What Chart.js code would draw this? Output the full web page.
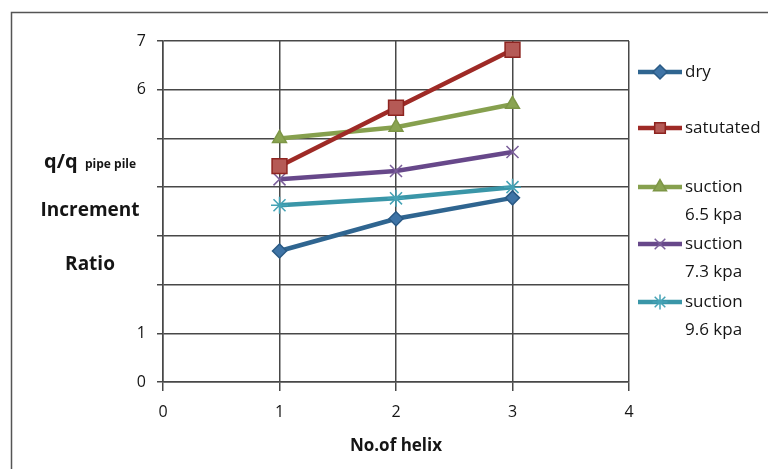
<!DOCTYPE html>
<html>
<head>
<meta charset="utf-8">
<script src="https://cdn.jsdelivr.net/npm/chart.js@4/dist/chart.umd.min.js"></script>
<style>
  html, body { margin: 0; padding: 0; background: #ffffff; }
  #wrap { position: relative; width: 768px; height: 469px; }
</style>
</head>
<body>
<div id="wrap"><canvas id="c" width="768" height="469"></canvas></div>
<script>
// Number of helices on the pile
const helixCounts = [1, 2, 3];

// q / q(pipe pile) increment ratio for each soil condition
const dryValues       = [2.69, 3.35, 3.78];
const saturatedValues = [4.43, 5.63, 6.82];
const suction65Values = [5.00, 5.23, 5.70];
const suction73Values = [4.16, 4.33, 4.72];
const suction96Values = [3.63, 3.77, 4.00];

const seriesNames = [['dry'], ['satutated'], ['suction', '6.5 kpa'], ['suction', '7.3 kpa'], ['suction', '9.6 kpa']];
const seriesValues = [dryValues, saturatedValues, suction65Values, suction73Values, suction96Values];

const yTickLabelsShown = [0, 1, 6, 7];
const xAxisTitle = 'No.of helix';

const styles = [
  { line: '#2F6590', fill: '#3F74A6', border: '#2A5A85', point: 'rectRot', radius: 7 },
  { line: '#9E2A26', fill: '#B55A56', border: '#8E2420', point: 'rect', radius: 10.5 },
  { line: '#86A04E', fill: '#8AA452', border: '#7D9646', point: 'triangle', radius: 8 },
  { line: '#67488A', fill: '#67488A', border: '#7A5E9A', point: 'crossRot', radius: 8.5 },
  { line: '#3A96A8', fill: '#3A96A8', border: '#45A3B6', point: 'star', radius: 8.5 }
];

const FONT = '"Open Sans", "DejaVu Sans", sans-serif';
const TEXT = '#151515';
const GRID = '#484848';

const datasets = seriesValues.map((vals, i) => ({
  label: seriesNames[i].join(' '),
  data: helixCounts.map((h, j) => ({ x: h, y: vals[j] })),
  borderColor: styles[i].line,
  borderWidth: 4.5,
  pointStyle: styles[i].point,
  pointRadius: styles[i].radius,
  pointHoverRadius: styles[i].radius,
  pointBackgroundColor: styles[i].fill,
  pointBorderColor: styles[i].border,
  pointBorderWidth: 1.5,
  tension: 0,
  fill: false
}));

// Outer chart frame (left and top edges)
const framePlugin = {
  id: 'frame',
  beforeDraw(chart) {
    const ctx = chart.ctx;
    ctx.save();
    ctx.strokeStyle = '#555555';
    ctx.lineWidth = 1.5;
    ctx.beginPath();
    ctx.moveTo(11.5, 469);
    ctx.lineTo(11.5, 12.5);
    ctx.lineTo(768, 12.5);
    ctx.stroke();
    ctx.restore();
  }
};

// Multi-line vertical axis title
const yTitlePlugin = {
  id: 'yTitle',
  afterDraw(chart) {
    const ctx = chart.ctx;
    ctx.save();
    ctx.fillStyle = TEXT;
    ctx.textBaseline = 'alphabetic';
    ctx.textAlign = 'left';
    ctx.font = 'bold 20px ' + FONT;
    ctx.fillText('q/q', 44, 168);
    ctx.font = 'bold 12px ' + FONT;
    ctx.fillText('pipe pile', 85, 168);
    ctx.textAlign = 'center';
    ctx.textBaseline = 'middle';
    ctx.font = 'bold 19px ' + FONT;
    ctx.fillText('Increment', 90, 211);
    ctx.fillText('Ratio', 90, 265);
    ctx.restore();
  }
};

// Legend on the right with wrapped labels
const sideLegendPlugin = {
  id: 'sideLegend',
  afterDraw(chart) {
    const ctx = chart.ctx;
    const itemY = [72, 128, 187, 244, 302];
    const lineGap = 28;
    ctx.save();
    chart.data.datasets.forEach((ds, i) => {
      const y = itemY[i];
      ctx.strokeStyle = ds.borderColor;
      ctx.lineWidth = 4.5;
      ctx.lineCap = 'butt';
      ctx.beginPath();
      ctx.moveTo(638, y);
      ctx.lineTo(682, y);
      ctx.stroke();
      ctx.fillStyle = ds.pointBackgroundColor;
      ctx.strokeStyle = ds.pointBorderColor;
      ctx.lineWidth = ds.pointBorderWidth;
      const r = Math.min(ds.pointRadius, 7.5);
      Chart.helpers.drawPoint(ctx, {
        pointStyle: ds.pointStyle,
        radius: r,
        rotation: 0,
        borderWidth: ds.pointBorderWidth
      }, 660, y);
      ctx.fillStyle = TEXT;
      ctx.font = '17px ' + FONT;
      ctx.textAlign = 'left';
      ctx.textBaseline = 'middle';
      seriesNames[i].forEach((t, k) => ctx.fillText(t, 685, y + k * lineGap));
    });
    ctx.restore();
  }
};

new Chart(document.getElementById('c'), {
  type: 'line',
  data: { datasets },
  plugins: [framePlugin, yTitlePlugin, sideLegendPlugin],
  options: {
    responsive: false,
    animation: false,
    layout: { padding: { top: 41, right: 139, left: 0, bottom: 0 } },
    plugins: {
      legend: { display: false },
      tooltip: { enabled: false }
    },
    scales: {
      x: {
        type: 'linear',
        min: 0,
        max: 4,
        afterFit(scale) { scale.height = 87; },
        ticks: {
          stepSize: 1,
          color: TEXT,
          font: { family: FONT, size: 16 },
          padding: 12,
          maxRotation: 0
        },
        grid: { color: GRID, lineWidth: 1.5, tickLength: 9 },
        border: { color: GRID, width: 1.5 },
        title: {
          display: true,
          text: xAxisTitle,
          color: TEXT,
          font: { family: FONT, size: 17, weight: 'bold' },
          padding: { top: 0, bottom: 13 }
        }
      },
      y: {
        type: 'linear',
        min: 0,
        max: 7,
        afterFit(scale) { scale.width = 163; },
        ticks: {
          stepSize: 1,
          color: TEXT,
          font: { family: FONT, size: 16 },
          padding: 11,
          callback: (v) => yTickLabelsShown.includes(v) ? String(v) : ''
        },
        grid: { color: GRID, lineWidth: 1.5, tickLength: 6 },
        border: { color: GRID, width: 1.5 }
      }
    }
  }
});
</script>
</body>
</html>
